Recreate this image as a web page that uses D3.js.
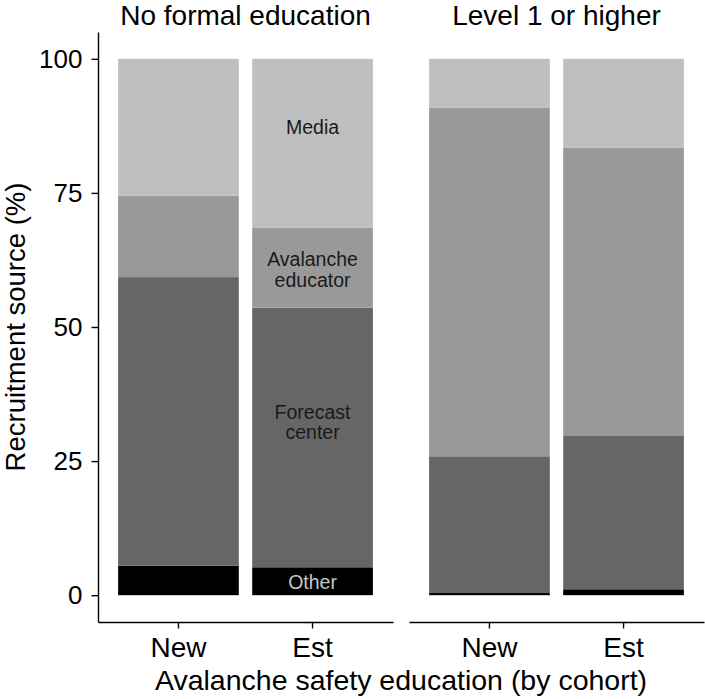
<!DOCTYPE html>
<html>
<head>
<meta charset="utf-8">
<script src="https://cdn.jsdelivr.net/npm/d3@7"></script>
<style>
  html, body { margin: 0; padding: 0; background: #fff; }
  svg text { font-family: "Liberation Sans", Arial, Helvetica, sans-serif; }
</style>
</head>
<body>
<svg id="chart" width="705" height="699"></svg>
<script>
// ---- data ----
const panels = ["No formal education", "Level 1 or higher"];
const cohorts = ["New", "Est"];
const sources = ["Other", "Forecast center", "Avalanche educator", "Media"];
// percentage share of each source, stacked bottom to top, per panel and cohort
const otherPct    = [[5.5, 5.2], [0.4, 1.1]];
const forecastPct = [[53.8, 48.4], [25.5, 28.7]];
const educatorPct = [[15.2, 14.9], [65.0, 53.6]];
const mediaPct    = [[25.5, 31.5], [9.1, 16.6]];
const yTicks = [0, 25, 50, 75, 100];
const labelText = ["Other", "Forecast\ncenter", "Avalanche\neducator", "Media"];
const labelAt = [2.5, 32.3, 60.7, 87.3];

const fills = ["#000000", "#666666", "#999999", "#bfbfbf"];
const labelColors = ["#c4c4c4", "#1a1a1a", "#1a1a1a", "#1a1a1a"];

const svg = d3.select("#chart");
const panelX = [[98, 393], [409, 704]];
const panelTop = 32, panelBottom = 622;

const y = d3.scaleLinear().domain([-5, 105]).range([panelBottom, panelTop]);

const seriesVals = [otherPct, forecastPct, educatorPct, mediaPct];

panels.forEach((pname, pi) => {
  const x = d3.scaleBand().domain(cohorts).range(panelX[pi])
    .paddingInner(0.1).paddingOuter(0.15);
  const g = svg.append("g");

  // stacked data
  const rows = cohorts.map((c, ci) => {
    const o = { cohort: c };
    sources.forEach((s, si) => { o[s] = seriesVals[si][pi][ci]; });
    return o;
  });
  const stack = d3.stack().keys(sources)(rows);

  stack.forEach((layer, si) => {
    g.selectAll(null).data(layer).enter().append("rect")
      .attr("x", d => x(d.data.cohort))
      .attr("width", x.bandwidth())
      .attr("y", d => y(d[1]))
      .attr("height", d => y(d[0]) - y(d[1]))
      .attr("fill", fills[si]);
  });

  // x axis
  const xa = g.append("g").attr("transform", `translate(0,${panelBottom})`)
    .call(d3.axisBottom(x).tickSize(6.5).tickSizeOuter(0).tickPadding(8.5));
  xa.select(".domain").attr("stroke", "#000").attr("stroke-width", 1.4);
  xa.selectAll(".tick line").attr("stroke", "#000").attr("stroke-width", 1.4);
  xa.selectAll(".tick text").attr("font-size", 28).attr("fill", "#000")
    .attr("font-family", "Liberation Sans, Arial, sans-serif");

  // strip title
  g.append("text")
    .attr("x", (panelX[pi][0] + panelX[pi][1]) / 2)
    .attr("y", 24.5)
    .attr("text-anchor", "middle")
    .attr("font-size", 28)
    .attr("fill", "#000")
    .text(pname);

  // in-bar labels (first panel, established cohort)
  if (pi === 0) {
    const cx = x("Est") + x.bandwidth() / 2;
    labelText.forEach((t, li) => {
      const lines = t.split("\n");
      const lh = 20.5;
      const tx = g.append("text")
        .attr("text-anchor", "middle")
        .attr("font-size", 19.5)
        .attr("fill", labelColors[li]);
      lines.forEach((ln, k) => {
        tx.append("tspan")
          .attr("x", cx)
          .attr("y", y(labelAt[li]) + 7 + (k - (lines.length - 1) / 2) * lh)
          .text(ln);
      });
    });
  }

  if (pi === 0) {
    const ya = g.append("g").attr("transform", `translate(${panelX[0][0]},0)`)
      .call(d3.axisLeft(y).tickValues(yTicks).tickSize(6.5).tickSizeOuter(0).tickPadding(9));
    ya.select(".domain").attr("stroke", "#000").attr("stroke-width", 1.4);
    ya.selectAll(".tick line").attr("stroke", "#000").attr("stroke-width", 1.4);
    ya.selectAll(".tick text").attr("font-size", 26).attr("fill", "#000")
      .attr("font-family", "Liberation Sans, Arial, sans-serif");
  }
});

// axis titles
svg.append("text")
  .attr("x", (panelX[0][0] + panelX[1][1]) / 2)
  .attr("y", 690)
  .attr("text-anchor", "middle")
  .attr("font-size", 28.5)
  .attr("fill", "#000")
  .text("Avalanche safety education (by cohort)");

svg.append("text")
  .attr("transform", `translate(25,${(panelTop + panelBottom) / 2}) rotate(-90)`)
  .attr("text-anchor", "middle")
  .attr("font-size", 27.5)
  .attr("fill", "#000")
  .text("Recruitment source (%)");
</script>
</body>
</html>
